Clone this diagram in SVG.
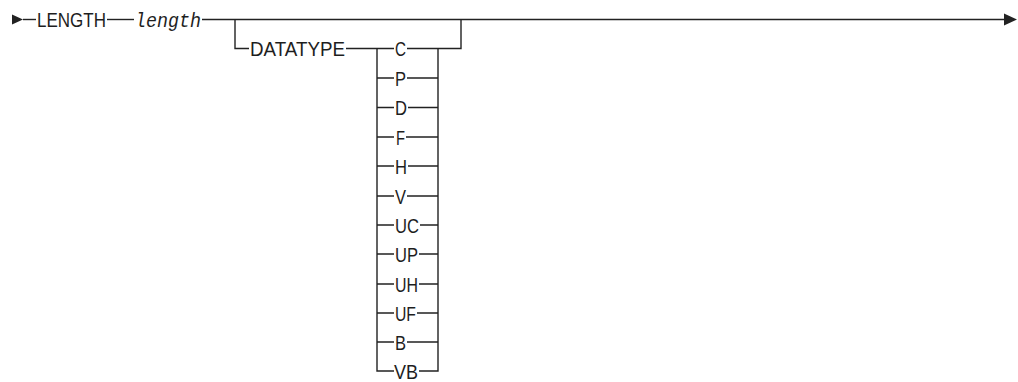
<svg xmlns="http://www.w3.org/2000/svg" width="1018" height="382" viewBox="0 0 1018 382">
  <style>
    .ln { fill: none; stroke: #222; stroke-width: 1.4; stroke-linejoin: miter; }
    .ar { fill: #222; }
    .kw { font-family: "Liberation Sans Narrow", "Liberation Sans", Arial, sans-serif; font-size: 21px; fill: #1e1e1e; }
    .var { font-family: "Liberation Mono", "DejaVu Sans Mono", monospace; font-style: italic; font-size: 20px; fill: #1e1e1e; }
  </style>

  <!-- connectors: main track, optional DATATYPE branch and the choice stack -->
  <g id="connectors">
    <polygon class="ar" points="12,14.5 23,19.5 12,24.5"/>
    <path class="ln" d="M23,19.5 H36"/>
    <path class="ln" d="M107,19.5 H134"/>
    <path class="ln" d="M202,19.5 H1005"/>
    <polygon class="ar" points="1004,13.5 1017,19.5 1004,25.5"/>

    <!-- optional branch -->
    <path class="ln" d="M235,19.5 V48.5 H249"/>
    <path class="ln" d="M346,48.5 H394"/>
    <path class="ln" d="M407,48.5 H461 V19.5"/>

    <!-- choice stack rails -->
    <path class="ln" d="M377,48.5 V371 H394"/>
    <path class="ln" d="M438,48.5 V371 H419"/>

    <!-- left stubs of the rows -->
    <path class="ln" d="M377,78 H394 M377,107.5 H394 M377,137 H394 M377,166 H394 M377,196 H394 M377,225 H394 M377,254 H394 M377,284 H394 M377,313 H394 M377,342 H394"/>
    <!-- right stubs of the rows -->
    <path class="ln" d="M407,78 H438 M408,107.5 H438 M406,137 H438 M408,166 H438 M407,196 H438 M420,225 H438 M419,254 H438 M419,284 H438 M417,313 H438 M407,342 H438"/>
  </g>

  <g id="n-length-kw">
    <text class="kw" x="37" y="27" textLength="69" lengthAdjust="spacingAndGlyphs">LENGTH</text>
  </g>
  <g id="n-length-var">
    <text class="var" x="135" y="27" textLength="66" lengthAdjust="spacingAndGlyphs">length</text>
  </g>
  <g id="n-datatype">
    <text class="kw" x="250" y="56" textLength="95" lengthAdjust="spacingAndGlyphs">DATATYPE</text>
  </g>

  <g id="n-c"><text class="kw" x="395" y="56" textLength="11" lengthAdjust="spacingAndGlyphs">C</text></g>
  <g id="n-p"><text class="kw" x="395" y="85.5" textLength="11" lengthAdjust="spacingAndGlyphs">P</text></g>
  <g id="n-d"><text class="kw" x="395" y="115" textLength="12" lengthAdjust="spacingAndGlyphs">D</text></g>
  <g id="n-f"><text class="kw" x="396" y="144.5" textLength="9" lengthAdjust="spacingAndGlyphs">F</text></g>
  <g id="n-h"><text class="kw" x="395" y="173.5" textLength="12" lengthAdjust="spacingAndGlyphs">H</text></g>
  <g id="n-v"><text class="kw" x="395" y="203.5" textLength="11" lengthAdjust="spacingAndGlyphs">V</text></g>
  <g id="n-uc"><text class="kw" x="395" y="232.5" textLength="24" lengthAdjust="spacingAndGlyphs">UC</text></g>
  <g id="n-up"><text class="kw" x="395" y="261.5" textLength="23" lengthAdjust="spacingAndGlyphs">UP</text></g>
  <g id="n-uh"><text class="kw" x="395" y="291.5" textLength="23" lengthAdjust="spacingAndGlyphs">UH</text></g>
  <g id="n-uf"><text class="kw" x="395" y="320.5" textLength="21" lengthAdjust="spacingAndGlyphs">UF</text></g>
  <g id="n-b"><text class="kw" x="395" y="349.5" textLength="11" lengthAdjust="spacingAndGlyphs">B</text></g>
  <g id="n-vb"><text class="kw" x="394" y="378.5" textLength="24" lengthAdjust="spacingAndGlyphs">VB</text></g>
</svg>
